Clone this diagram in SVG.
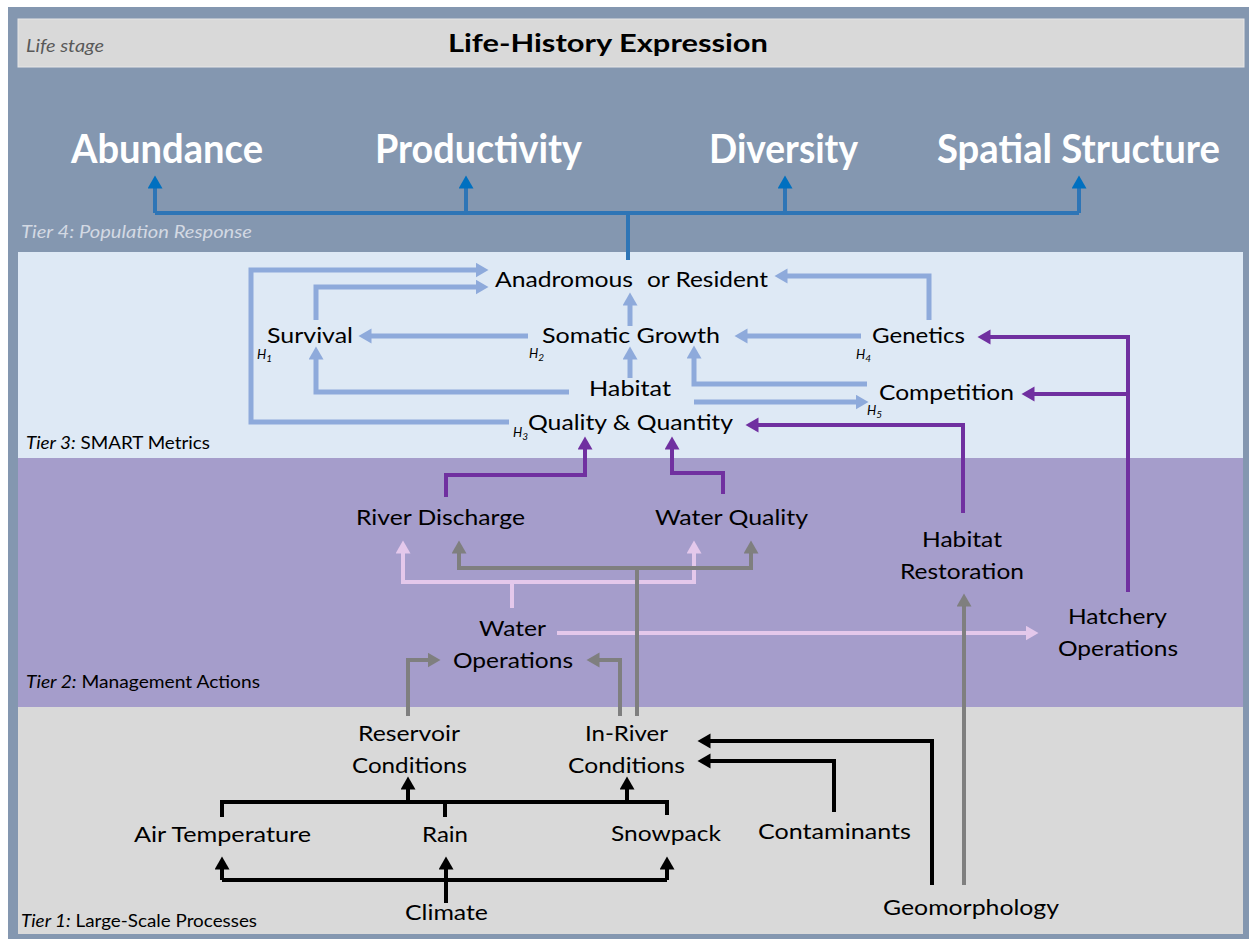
<svg xmlns="http://www.w3.org/2000/svg" width="1249" height="939" viewBox="0 0 1249 939">
  <style>
    text { font-family: Lato, "Liberation Sans", sans-serif; fill: #000; }
    .n { font-size: 22px; }
    .big { font-size: 40px; font-weight: bold; fill: #fff; }
    .tier { font-size: 17px; }
    .it { font-style: italic; }
    .h { font-size: 13px; font-style: italic; }
    .sub { font-size: 10px; }
    .c { fill: none; stroke-width: 4; stroke-linejoin: miter; }
    .blue { stroke: #2e75b6; }
    .lb { stroke: #8eaadb; stroke-width: 5; }
    .pur { stroke: #7030a0; }
    .pink { stroke: #e4c8eb; }
    .gray { stroke: #7f7f7f; }
    .blk { stroke: #000; }
  </style>
  <defs>
    <marker id="aBlue" markerUnits="userSpaceOnUse" markerWidth="14" markerHeight="16" refX="0.5" refY="7.5" orient="auto" viewBox="0 0 14 16"><path d="M0,0 L13,7.5 L0,15 z" fill="#0070c0"/></marker>
    <marker id="aLb" markerUnits="userSpaceOnUse" markerWidth="14" markerHeight="16" refX="0.5" refY="7.5" orient="auto" viewBox="0 0 14 16"><path d="M0,0 L13,7.5 L0,15 z" fill="#8eaadb"/></marker>
    <marker id="aPur" markerUnits="userSpaceOnUse" markerWidth="14" markerHeight="16" refX="0.5" refY="7.5" orient="auto" viewBox="0 0 14 16"><path d="M0,0 L13,7.5 L0,15 z" fill="#7030a0"/></marker>
    <marker id="aPink" markerUnits="userSpaceOnUse" markerWidth="14" markerHeight="16" refX="0.5" refY="7.5" orient="auto" viewBox="0 0 14 16"><path d="M0,0 L13,7.5 L0,15 z" fill="#e4c8eb"/></marker>
    <marker id="aGray" markerUnits="userSpaceOnUse" markerWidth="14" markerHeight="16" refX="0.5" refY="7.5" orient="auto" viewBox="0 0 14 16"><path d="M0,0 L13,7.5 L0,15 z" fill="#7f7f7f"/></marker>
    <marker id="aBlk" markerUnits="userSpaceOnUse" markerWidth="14" markerHeight="16" refX="0.5" refY="7.5" orient="auto" viewBox="0 0 14 16"><path d="M0,0 L13,7.5 L0,15 z" fill="#000"/></marker>
  </defs>

  <!-- tier bands -->
  <g id="bands">
    <rect x="0" y="0" width="1249" height="939" fill="#fff"/>
    <rect x="8" y="7" width="1241" height="932" fill="#8497b0"/>
    <rect x="18" y="19" width="1226" height="48" fill="#d9d9d9" stroke="#e6e6e6" stroke-width="1"/>
    <rect x="18" y="252" width="1225" height="206" fill="#dee9f5"/>
    <rect x="18" y="458" width="1225" height="249" fill="#a59dcb"/>
    <rect x="18" y="707" width="1225" height="227" fill="#d9d9d9"/>
  </g>

  <!-- band labels -->
  <g id="labels">
    <text class="tier it" x="26" y="52" style="fill:#595959" textLength="78" lengthAdjust="spacingAndGlyphs">Life stage</text>
    <text x="448" y="52" font-size="25" font-weight="bold" textLength="320" lengthAdjust="spacingAndGlyphs">Life-History Expression</text>
    <text class="tier it" x="21" y="238" style="fill:#d3d9e3" textLength="231" lengthAdjust="spacingAndGlyphs">Tier 4: Population Response</text>
    <text class="tier" x="26" y="449" textLength="184" lengthAdjust="spacingAndGlyphs"><tspan class="it">Tier 3:</tspan> SMART Metrics</text>
    <text class="tier" x="26" y="688" textLength="234" lengthAdjust="spacingAndGlyphs"><tspan class="it">Tier 2:</tspan> Management Actions</text>
    <text class="tier" x="21" y="927" textLength="236" lengthAdjust="spacingAndGlyphs"><tspan class="it">Tier 1:</tspan> Large-Scale Processes</text>
  </g>

  <!-- Tier 4 -->
  <g id="abundance"><text class="big" x="71" y="163" textLength="192" lengthAdjust="spacingAndGlyphs">Abundance</text></g>
  <g id="productivity"><text class="big" x="375" y="163" textLength="207" lengthAdjust="spacingAndGlyphs">Productivity</text></g>
  <g id="diversity"><text class="big" x="709" y="163" textLength="149" lengthAdjust="spacingAndGlyphs">Diversity</text></g>
  <g id="spatial-structure"><text class="big" x="937" y="163" textLength="283" lengthAdjust="spacingAndGlyphs">Spatial Structure</text></g>

  <!-- Tier 3 -->
  <g id="anadromous-or-resident"><text class="n" y="287"><tspan x="495" textLength="138" lengthAdjust="spacingAndGlyphs">Anadromous</tspan><tspan x="647" textLength="121" lengthAdjust="spacingAndGlyphs">or Resident</tspan></text></g>
  <g id="survival">
    <text class="n" x="267" y="343" textLength="86" lengthAdjust="spacingAndGlyphs">Survival</text>
    <text class="h" x="257" y="359">H<tspan class="sub" dy="3">1</tspan></text>
  </g>
  <g id="somatic-growth">
    <text class="n" x="542" y="343" textLength="178" lengthAdjust="spacingAndGlyphs">Somatic Growth</text>
    <text class="h" x="529" y="358">H<tspan class="sub" dy="3">2</tspan></text>
  </g>
  <g id="genetics">
    <text class="n" x="872" y="343" textLength="93" lengthAdjust="spacingAndGlyphs">Genetics</text>
    <text class="h" x="856" y="359">H<tspan class="sub" dy="3">4</tspan></text>
  </g>
  <g id="habitat-quality-quantity">
    <text class="n" x="589" y="396" textLength="82" lengthAdjust="spacingAndGlyphs">Habitat</text>
    <text class="n" x="528" y="430" textLength="205" lengthAdjust="spacingAndGlyphs">Quality &amp; Quantity</text>
    <text class="h" x="513" y="437">H<tspan class="sub" dy="3">3</tspan></text>
  </g>
  <g id="competition">
    <text class="n" x="879" y="400" textLength="135" lengthAdjust="spacingAndGlyphs">Competition</text>
    <text class="h" x="867" y="415">H<tspan class="sub" dy="3">5</tspan></text>
  </g>

  <!-- Tier 2 -->
  <g id="river-discharge"><text class="n" x="356" y="525" textLength="169" lengthAdjust="spacingAndGlyphs">River Discharge</text></g>
  <g id="water-quality"><text class="n" x="655" y="525" textLength="153" lengthAdjust="spacingAndGlyphs">Water Quality</text></g>
  <g id="water-operations">
    <text class="n" x="479" y="636" textLength="67" lengthAdjust="spacingAndGlyphs">Water</text>
    <text class="n" x="453" y="668" textLength="120" lengthAdjust="spacingAndGlyphs">Operations</text>
  </g>
  <g id="habitat-restoration">
    <text class="n" x="922" y="547" textLength="80" lengthAdjust="spacingAndGlyphs">Habitat</text>
    <text class="n" x="900" y="579" textLength="124" lengthAdjust="spacingAndGlyphs">Restoration</text>
  </g>
  <g id="hatchery-operations">
    <text class="n" x="1068" y="624" textLength="99" lengthAdjust="spacingAndGlyphs">Hatchery</text>
    <text class="n" x="1058" y="656" textLength="120" lengthAdjust="spacingAndGlyphs">Operations</text>
  </g>

  <!-- Tier 1 -->
  <g id="reservoir-conditions">
    <text class="n" x="358" y="741" textLength="102" lengthAdjust="spacingAndGlyphs">Reservoir</text>
    <text class="n" x="352" y="773" textLength="115" lengthAdjust="spacingAndGlyphs">Conditions</text>
  </g>
  <g id="in-river-conditions">
    <text class="n" x="585" y="741" textLength="83" lengthAdjust="spacingAndGlyphs">In-River</text>
    <text class="n" x="568" y="773" textLength="117" lengthAdjust="spacingAndGlyphs">Conditions</text>
  </g>
  <g id="air-temperature"><text class="n" x="134" y="842" textLength="177" lengthAdjust="spacingAndGlyphs">Air Temperature</text></g>
  <g id="rain"><text class="n" x="422" y="842" textLength="46" lengthAdjust="spacingAndGlyphs">Rain</text></g>
  <g id="snowpack"><text class="n" x="611" y="841" textLength="110" lengthAdjust="spacingAndGlyphs">Snowpack</text></g>
  <g id="contaminants"><text class="n" x="758" y="839" textLength="153" lengthAdjust="spacingAndGlyphs">Contaminants</text></g>
  <g id="climate"><text class="n" x="405" y="920" textLength="83" lengthAdjust="spacingAndGlyphs">Climate</text></g>
  <g id="geomorphology"><text class="n" x="883" y="915" textLength="176" lengthAdjust="spacingAndGlyphs">Geomorphology</text></g>

  <!-- connectors -->
  <g id="connectors">
    <!-- population response bus -->
    <path class="c blue" d="M155,213 H1079 M628,260 V213"/>
    <path class="c blue" marker-end="url(#aBlue)" d="M155,213 V188"/>
    <path class="c blue" marker-end="url(#aBlue)" d="M466,213 V188"/>
    <path class="c blue" marker-end="url(#aBlue)" d="M785,213 V188"/>
    <path class="c blue" marker-end="url(#aBlue)" d="M1079,213 V188"/>

    <!-- SMART metric links -->
    <path class="c lb" marker-end="url(#aLb)" d="M509,422 H251 V270 H476"/>
    <path class="c lb" marker-end="url(#aLb)" d="M316,320 V287 H476"/>
    <path class="c lb" marker-end="url(#aLb)" d="M528,336 H371"/>
    <path class="c lb" marker-end="url(#aLb)" d="M569,392 H316 V359"/>
    <path class="c lb" marker-end="url(#aLb)" d="M630,378 V359"/>
    <path class="c lb" marker-end="url(#aLb)" d="M630,326 V305"/>
    <path class="c lb" marker-end="url(#aLb)" d="M861,336 H747"/>
    <path class="c lb" marker-end="url(#aLb)" d="M929,320 V276 H787"/>
    <path class="c lb" marker-end="url(#aLb)" d="M867,384 H694 V358"/>
    <path class="c lb" marker-end="url(#aLb)" d="M694,402 H856"/>

    <!-- management actions to metrics -->
    <path class="c pur" marker-end="url(#aPur)" d="M1128,592 V337 H990"/>
    <path class="c pur" marker-end="url(#aPur)" d="M1128,394 H1034"/>
    <path class="c pur" marker-end="url(#aPur)" d="M963,513 V425 H758"/>
    <path class="c pur" marker-end="url(#aPur)" d="M446,497 V475 H585 V449"/>
    <path class="c pur" marker-end="url(#aPur)" d="M723,494 V473 H672 V449"/>

    <!-- water operations -->
    <path class="c pink" marker-end="url(#aPink)" d="M512,608 V582 H403 V553"/>
    <path class="c pink" marker-end="url(#aPink)" d="M512,582 H694 V553"/>
    <path class="c pink" marker-end="url(#aPink)" d="M557,633 H1026"/>

    <!-- in-river, reservoir and geomorphology links -->
    <path class="c gray" marker-end="url(#aGray)" d="M637,716 V568 H459 V553"/>
    <path class="c gray" marker-end="url(#aGray)" d="M637,568 H751 V553"/>
    <path class="c gray" marker-end="url(#aGray)" d="M620,716 V660 H599"/>
    <path class="c gray" marker-end="url(#aGray)" d="M408,716 V660 H428"/>
    <path class="c gray" marker-end="url(#aGray)" d="M964,885 V606"/>

    <!-- large-scale processes -->
    <path class="c blk" d="M222,817 V802 H667 V815 M445,817 V802 M222,880 H667"/>
    <path class="c blk" marker-end="url(#aBlk)" d="M408,802 V789"/>
    <path class="c blk" marker-end="url(#aBlk)" d="M627,802 V789"/>
    <path class="c blk" marker-end="url(#aBlk)" d="M446,903 V869"/>
    <path class="c blk" marker-end="url(#aBlk)" d="M222,880 V869"/>
    <path class="c blk" marker-end="url(#aBlk)" d="M667,880 V869"/>
    <path class="c blk" marker-end="url(#aBlk)" d="M834,812 V761 H710"/>
    <path class="c blk" marker-end="url(#aBlk)" d="M932,885 V741 H710"/>
  </g>
</svg>
